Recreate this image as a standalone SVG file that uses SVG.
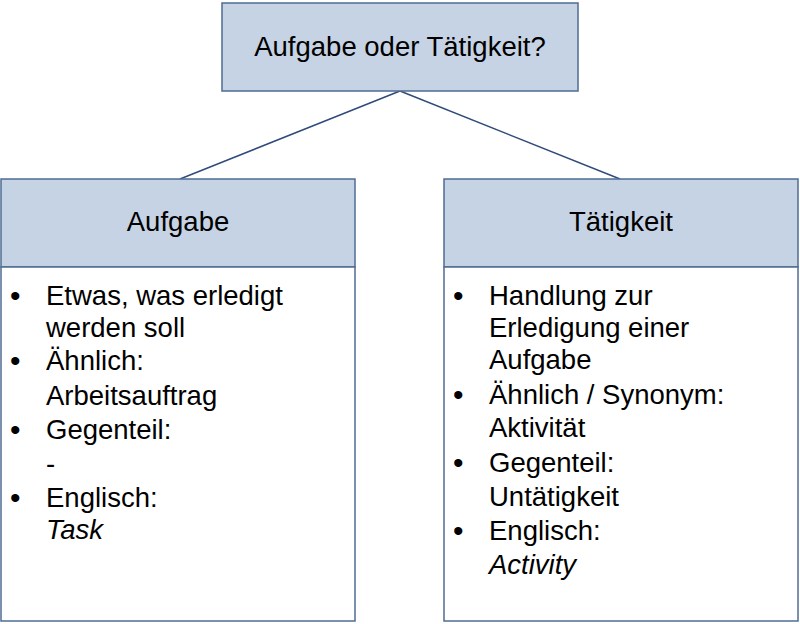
<svg xmlns="http://www.w3.org/2000/svg" width="800" height="624" viewBox="0 0 800 624">
<style>
.h{fill:#C6D3E4;stroke:#4F6C93;stroke-width:1.5}
.b{fill:#fff;stroke:#4F6C93;stroke-width:1.5}
text{font-family:"Liberation Sans",Arial,sans-serif;font-size:27.5px;fill:#000}
.c{text-anchor:middle}
.d{font-size:30px}
</style>
<rect width="800" height="624" fill="#fff"/>
<g id="connectors" stroke="#2F4B78" stroke-width="1.5" fill="none">
<line x1="400" y1="91" x2="180" y2="179"/>
<line x1="400" y1="91" x2="620" y2="179"/>
</g>
<g id="top"><rect class="h" x="222" y="3" width="356" height="88"/><text class="c" x="400" y="56">Aufgabe oder Tätigkeit?</text></g>
<g id="aufgabe">
<rect class="h" x="1" y="179" width="354" height="88"/><text class="c" x="178" y="231">Aufgabe</text>
<rect class="b" x="1" y="267" width="354" height="354"/>
<text class="d" x="10" y="306">•</text><text x="46" y="305">Etwas, was erledigt</text>
<text x="46" y="337">werden soll</text>
<text class="d" x="10" y="371">•</text><text x="46" y="370">Ähnlich:</text>
<text x="46" y="405">Arbeitsauftrag</text>
<text class="d" x="10" y="440">•</text><text x="46" y="439">Gegenteil:</text>
<text x="46" y="473">-</text>
<text class="d" x="10" y="508">•</text><text x="46" y="507">Englisch:</text>
<text x="46" y="539" font-style="italic">Task</text>
</g>
<g id="taetigkeit">
<rect class="h" x="444" y="179" width="354" height="88"/><text class="c" x="621" y="231">Tätigkeit</text>
<rect class="b" x="444" y="267" width="354" height="354"/>
<text class="d" x="453" y="306">•</text><text x="489" y="305">Handlung zur</text>
<text x="489" y="337">Erledigung einer</text>
<text x="489" y="369">Aufgabe</text>
<text class="d" x="453" y="405">•</text><text x="489" y="404">Ähnlich / Synonym:</text>
<text x="489" y="437">Aktivität</text>
<text class="d" x="453" y="473">•</text><text x="489" y="472">Gegenteil:</text>
<text x="489" y="506">Untätigkeit</text>
<text class="d" x="453" y="541">•</text><text x="489" y="540">Englisch:</text>
<text x="489" y="574" font-style="italic">Activity</text>
</g>
</svg>
